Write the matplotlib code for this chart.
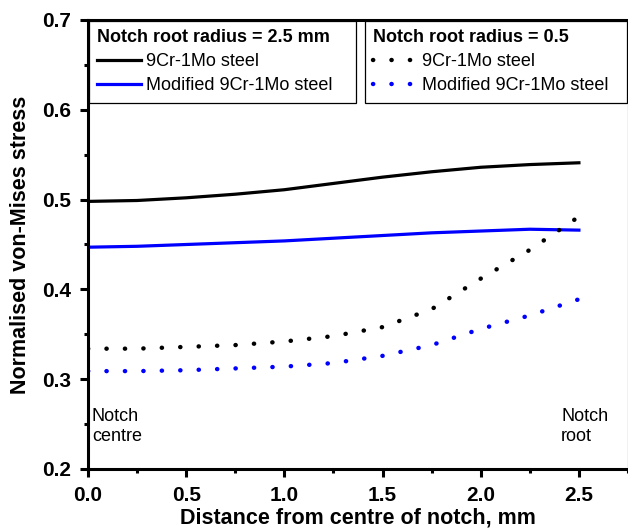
import matplotlib.pyplot as plt
from matplotlib.ticker import MultipleLocator

plt.rcParams['font.family'] = ['Liberation Sans', 'DejaVu Sans']

# Distance from centre of notch (mm)
dist = [0.0, 0.25, 0.5, 0.75, 1.0, 1.25, 1.5, 1.75, 2.0, 2.25, 2.5]

# Notch root radius = 2.5 mm
r25_9cr = [0.498, 0.499, 0.502, 0.506, 0.511, 0.518, 0.525, 0.531, 0.536, 0.539, 0.541]
r25_mod = [0.447, 0.448, 0.450, 0.452, 0.454, 0.457, 0.460, 0.463, 0.465, 0.467, 0.466]

# Notch root radius = 0.5
r05_9cr = [0.334, 0.334, 0.336, 0.338, 0.342, 0.348, 0.358, 0.378, 0.412, 0.444, 0.481]
r05_mod = [0.309, 0.309, 0.310, 0.312, 0.314, 0.318, 0.326, 0.338, 0.356, 0.371, 0.389]

fig = plt.figure(figsize=(6.28, 5.28), dpi=100)
ax = fig.add_axes([88 / 628, 59 / 528, 540 / 628, 449 / 528])

lw = 2.3
dlw = 3.2
dots = (0, (0.05, 4.1))
l1, = ax.plot(dist, r25_9cr, color='black', lw=lw, label='9Cr-1Mo steel')
l2, = ax.plot(dist, r25_mod, color='#0000ff', lw=lw, label='Modified 9Cr-1Mo steel')
l3, = ax.plot(dist, r05_9cr, color='black', lw=dlw, ls=dots, dash_capstyle='round',
              label='9Cr-1Mo steel')
l4, = ax.plot(dist, r05_mod, color='#0000ff', lw=dlw, ls=dots, dash_capstyle='round',
              label='Modified 9Cr-1Mo steel')

ax.set_xlim(0, 2.75)
ax.set_ylim(0.2, 0.7)
ax.xaxis.set_major_locator(MultipleLocator(0.5))
ax.xaxis.set_minor_locator(MultipleLocator(0.25))
ax.yaxis.set_major_locator(MultipleLocator(0.1))
ax.yaxis.set_minor_locator(MultipleLocator(0.05))
ax.xaxis.set_major_formatter('{x:.1f}')
ax.yaxis.set_major_formatter('{x:.1f}')

for side in ['left', 'bottom', 'top']:
    ax.spines[side].set_linewidth(2.2)
ax.spines['right'].set_linewidth(0.8)
ax.tick_params(which='major', direction='out', length=6, width=2.2, pad=6,
               labelsize=15, top=False, right=False)
ax.tick_params(which='minor', direction='out', length=3, width=2.2, top=False, right=False)
for lab in ax.get_xticklabels() + ax.get_yticklabels():
    lab.set_fontweight('bold')

ax.set_xlabel('Distance from centre of notch, mm', fontsize=15.5, fontweight='bold', labelpad=2)
ax.set_ylabel('Normalised von-Mises stress', fontsize=15.5, fontweight='bold', labelpad=8)

ax.text(0.02, 0.268, 'Notch\ncentre', fontsize=13, va='top', ha='left', linespacing=1.2)
ax.text(2.41, 0.268, 'Notch\nroot', fontsize=13, va='top', ha='left', linespacing=1.2)

leg_kw = dict(loc='upper left', mode='expand', borderaxespad=0, fontsize=13,
              title_fontproperties={'weight': 'bold', 'size': 13}, alignment='left',
              fancybox=False, framealpha=1, edgecolor='black', handlelength=2.4,
              handletextpad=0.3, labelspacing=0.4, borderpad=0.45)
leg1 = ax.legend(handles=[l1, l2], title='Notch root radius = 2.5 mm',
                 bbox_to_anchor=(0.002, 0.0, 0.494, 0.998), **leg_kw)
leg1.get_frame().set_linewidth(0.9)
ax.add_artist(leg1)
leg2 = ax.legend(handles=[l3, l4], title='Notch root radius = 0.5',
                 bbox_to_anchor=(0.513, 0.0, 0.485, 0.998), **leg_kw)
leg2.get_frame().set_linewidth(0.9)

fig.savefig('out.png', dpi=100)
